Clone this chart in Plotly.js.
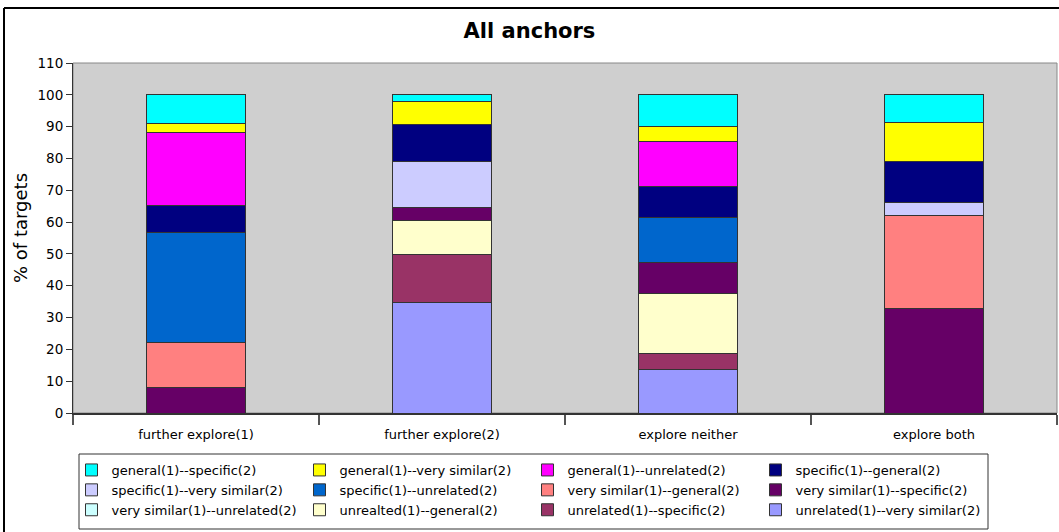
<!DOCTYPE html>
<html>
<head>
<meta charset="utf-8">
<script src="https://cdn.plot.ly/plotly-3.0.1.min.js"></script>
<style>
html,body{margin:0;padding:0;background:#fff;}
#chart{width:1059px;height:532px;}
</style>
</head>
<body>
<div id="chart"></div>
<script>
// Categories (x axis)
const categories = ["further explore(1)", "further explore(2)", "explore neither", "explore both"];

// Series names in legend order (top of stack first)
const seriesNames = [
  "general(1)--specific(2)",
  "general(1)--very similar(2)",
  "general(1)--unrelated(2)",
  "specific(1)--general(2)",
  "specific(1)--very similar(2)",
  "specific(1)--unrelated(2)",
  "very similar(1)--general(2)",
  "very similar(1)--specific(2)",
  "very similar(1)--unrelated(2)",
  "unrealted(1)--general(2)",
  "unrelated(1)--specific(2)",
  "unrelated(1)--very similar(2)"
];

// Values (% of targets) per series, one value per category
const generalSpecific        = [8.9, 2.1, 9.8, 8.6];
const generalVerySimilar     = [2.9, 7.3, 4.8, 12.3];
const generalUnrelated       = [22.9, 0, 14.1, 0];
const specificGeneral        = [8.6, 11.4, 9.8, 13.0];
const specificVerySimilar    = [0, 14.7, 0, 3.9];
const specificUnrelated      = [34.5, 0, 14.2, 0];
const verySimilarGeneral     = [14.2, 0, 0, 29.3];
const verySimilarSpecific    = [8.0, 3.9, 9.8, 32.9];
const verySimilarUnrelated   = [0, 0, 0, 0];
const unrelatedGeneral       = [0, 10.8, 18.9, 0];
const unrelatedSpecific      = [0, 15.0, 4.8, 0];
const unrelatedVerySimilar   = [0, 34.8, 13.8, 0];

const seriesValues = [
  generalSpecific, generalVerySimilar, generalUnrelated, specificGeneral,
  specificVerySimilar, specificUnrelated, verySimilarGeneral, verySimilarSpecific,
  verySimilarUnrelated, unrelatedGeneral, unrelatedSpecific, unrelatedVerySimilar
];

const seriesColors = [
  "#00FFFF", "#FFFF00", "#FF00FF", "#000080",
  "#CCCCFF", "#0066CC", "#FF8080", "#660066",
  "#CCFFFF", "#FFFFCC", "#993366", "#9999FF"
];

// Stack from bottom: last legend entry first
const traces = [];
for (let i = seriesNames.length - 1; i >= 0; i--) {
  traces.push({
    type: "bar",
    name: seriesNames[i],
    x: categories,
    y: seriesValues[i],
    marker: {color: seriesColors[i], line: {color: "#333333", width: 1}},
    hoverinfo: "x+y+name"
  });
}

const font = "DejaVu Sans, sans-serif";
const W = 1059, H = 532;
// pixel -> paper helpers (plot area: x 73..1057, y 63..413)
const px = v => (v - 73) / 984;
const py = v => (413 - v) / 350;

const layout = {
  width: W, height: H,
  margin: {l: 73, r: 2, t: 63, b: 119, pad: 0},
  paper_bgcolor: "#ffffff",
  plot_bgcolor: "#cfcfcf",
  barmode: "stack",
  bargap: 0.6,
  font: {family: font, color: "#000", size: 13},
  title: {text: "<b>All anchors</b>", font: {family: font, size: 21, color: "#000"},
          x: 0.5, xref: "container", y: 1 - 31 / H, yanchor: "middle"},
  xaxis: {
    type: "category",
    showline: true, linecolor: "#333", linewidth: 2,
    ticks: "outside", tickson: "boundaries", ticklen: 10, tickcolor: "#555", tickwidth: 2,
    ticklabelstandoff: 8,
    showgrid: false, zeroline: false,
    tickfont: {family: font, size: 13, color: "#000"},
    fixedrange: true
  },
  yaxis: {
    range: [0, 110], dtick: 10, tick0: 0,
    showline: true, linecolor: "#333", linewidth: 1,
    ticks: "outside", ticklen: 6, tickcolor: "#333",
    showgrid: false, zeroline: false,
    tickfont: {family: font, size: 13.5, color: "#000"},
    fixedrange: true
  },
  annotations: [
    {text: "% of targets", textangle: -90, xref: "paper", yref: "paper",
     x: px(20), y: py(228), xanchor: "center", yanchor: "middle", showarrow: false,
     font: {family: font, size: 18, color: "#000"}}
  ],
  showlegend: true,
  legend: {
    orientation: "h",
    traceorder: "reversed",
    xref: "container", yref: "container",
    x: 71.5 / W, xanchor: "left",
    y: 1 - 455 / H, yanchor: "top",
    entrywidth: 183, entrywidthmode: "pixels",
    bgcolor: "rgba(0,0,0,0)", borderwidth: 0,
    font: {family: font, size: 13, color: "#000"},
    tracegroupgap: 0, itemclick: false, itemdoubleclick: false
  },
  shapes: [
    {type: "rect", xref: "paper", yref: "paper", x0: 0, x1: 1, y0: 0, y1: 1,
     line: {color: "#888", width: 1}, fillcolor: "rgba(0,0,0,0)", layer: "below"},
    // outer chart frame (left and top edges visible)
    {type: "line", xref: "paper", yref: "paper",
     x0: px(4), x1: px(4), y0: py(8), y1: py(540),
     line: {color: "#000", width: 2}},
    {type: "line", xref: "paper", yref: "paper",
     x0: px(4), x1: px(1070), y0: py(8), y1: py(8),
     line: {color: "#000", width: 2}},
    // legend box
    {type: "rect", xref: "paper", yref: "paper",
     x0: px(79), x1: px(988), y0: py(454), y1: py(529),
     line: {color: "#333", width: 1}, fillcolor: "rgba(0,0,0,0)"}
  ]
};

Plotly.newPlot("chart", traces, layout, {displayModeBar: false, staticPlot: true});
</script>
</body>
</html>
